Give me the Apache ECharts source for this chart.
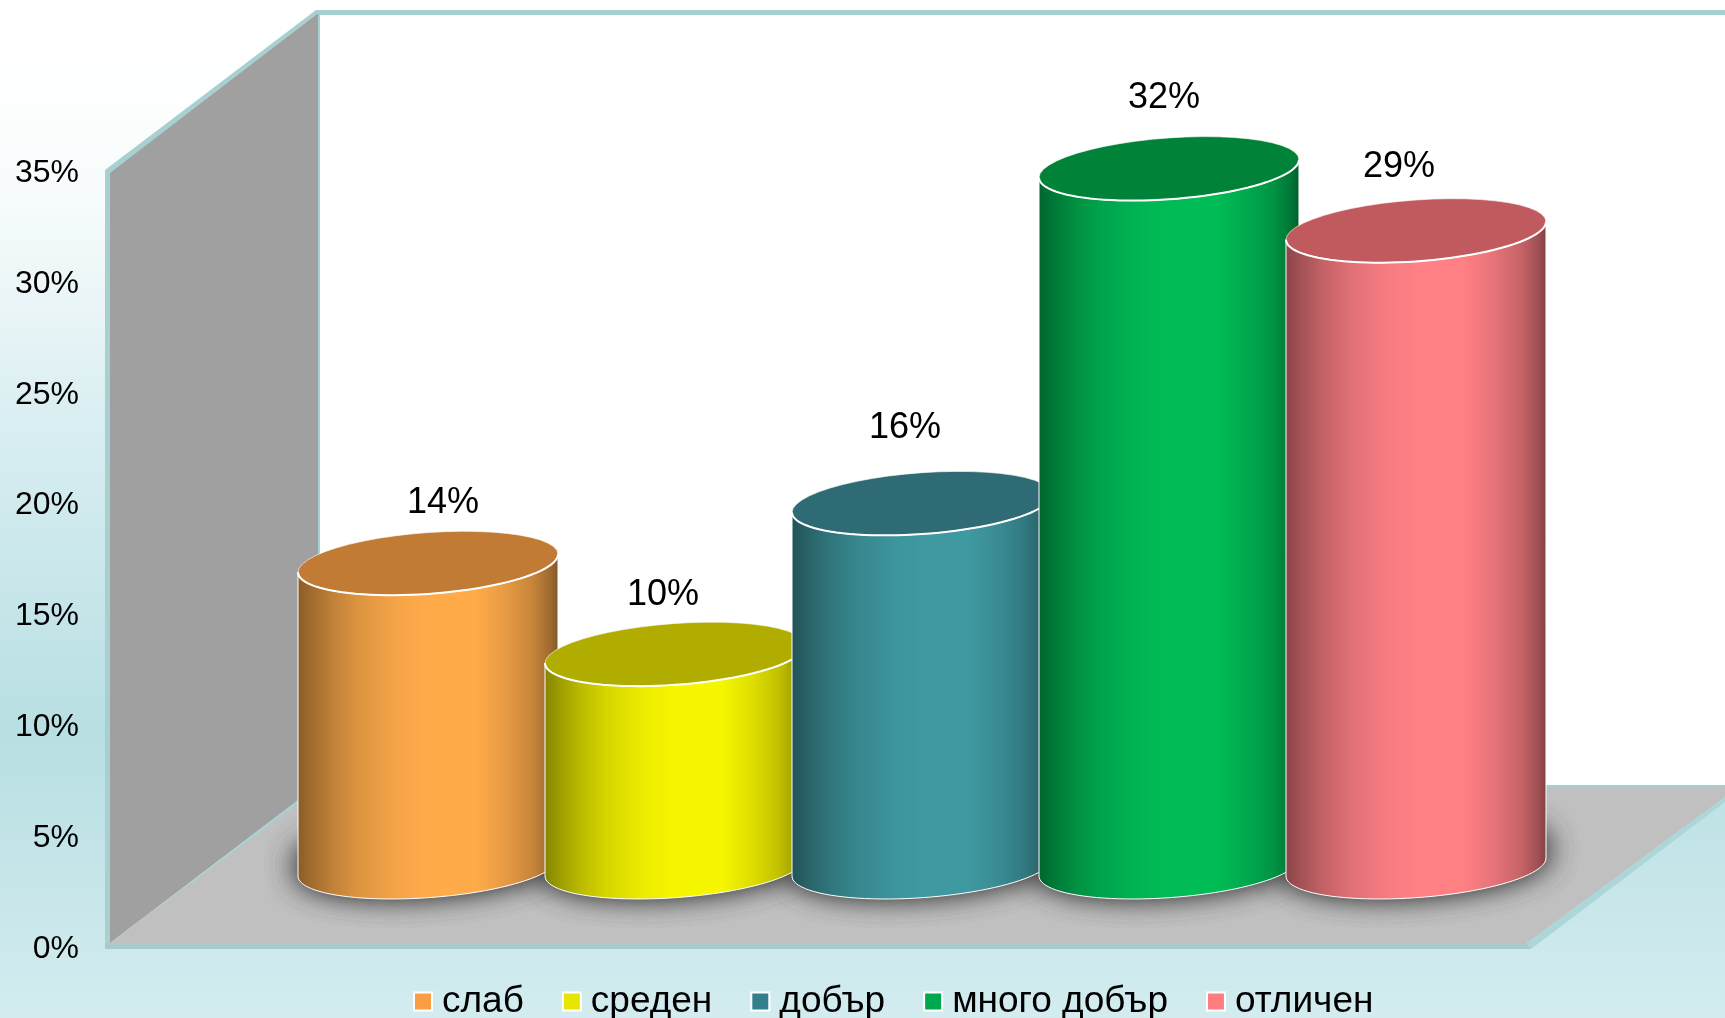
<!DOCTYPE html>
<html>
<head>
<meta charset="utf-8">
<style>html,body{margin:0;padding:0;overflow:hidden}#c{width:1725px;height:1018px}</style>
<script src="https://cdn.jsdelivr.net/npm/echarts@6/dist/echarts.min.js"></script>
</head>
<body>
<div id="c"></div>
<script>
const categories = ['слаб', 'среден', 'добър', 'много добър', 'отличен'];
const values = [13.7, 9.6, 16.4, 31.5, 28.7];
const bodyColors = ['#ffab4a', '#f6f600', '#3f99a1', '#00bc56', '#ff8085'];
const topColors = ['#c27b34', '#b0ad00', '#2f6b74', '#008238', '#c05a5e'];
const legendColors = ['#fb9d45', '#e6e600', '#347f8c', '#00a850', '#ff7c80'];
const labelNudge = [[15, -60], [-12, -59], [-17, -75], [-5, -71], [-17, -64]];
const valueTicks = [0, 5, 10, 15, 20, 25, 30, 35];
const FONT = '"Liberation Sans", Arial, sans-serif';

function shade(hex, f) {
  const n = parseInt(hex.slice(1), 16);
  const c = [n >> 16 & 255, n >> 8 & 255, n & 255].map(v => Math.round(v * f));
  return 'rgb(' + c.join(',') + ')';
}
function sideGradient(hex) {
  const stops = [[0, .54], [.06, .64], [.14, .76], [.24, .87], [.38, .96], [.5, 1], [.68, 1], [.8, .9], [.9, .78], [.97, .62], [1, .5]];
  return new echarts.graphic.LinearGradient(0, 0, 1, 0, stops.map(s => ({offset: s[0], color: shade(hex, s[1])})));
}
// tilted ellipse outline: the front rim runs t = 0..PI
const TILT = 9, MINOR = 30.7, STEPS = 48;
function rim(cx, cy, rx, t) {
  return [cx + rx * Math.cos(t), cy - TILT * Math.cos(t) * (rx / 130) + MINOR * Math.sin(t) * (rx / 130)];
}
function arc(cx, cy, rx, from, to) {
  const p = [];
  for (let i = 0; i <= STEPS; i++) p.push(rim(cx, cy, rx, from + (to - from) * i / STEPS));
  return p;
}
function halfWidth(api) { return api.size([1, 0])[0] * 0.5263; }

function renderCylinder(i) {
  return function (params, api) {
    const base = api.coord([api.value(0), 0]);
    const top = api.coord([api.value(0), api.value(1)]);
    const rx = halfWidth(api);
    const cx = base[0];
    const body = arc(cx, top[1], rx, Math.PI, 0).concat(arc(cx, base[1], rx, 0, Math.PI));
    const ellipse = arc(cx, top[1], rx, 0, Math.PI * 2);
    return {
      type: 'group',
      children: [
        {type: 'polygon', shape: {points: body},
         style: {fill: sideGradient(bodyColors[i]), stroke: '#fff', lineWidth: 1}},
        {type: 'polygon', shape: {points: ellipse},
         style: {fill: topColors[i], stroke: 'rgba(255,255,255,.6)', lineWidth: 1}},
        {type: 'polyline', shape: {points: arc(cx, top[1], rx, 0, Math.PI)},
         style: {fill: 'none', stroke: '#fff', lineWidth: 2}},
        {type: 'text', x: cx + labelNudge[i][0], y: top[1] + labelNudge[i][1],
         style: {text: Math.round(api.value(1)) + '%', fill: '#000', font: '36px ' + FONT,
                 align: 'center', verticalAlign: 'middle'}}
      ]
    };
  };
}
function renderShadow(params, api) {
  const base = api.coord([api.value(0), 0]);
  const rx = halfWidth(api);
  const layer = () => ({
    type: 'polygon',
    shape: {points: arc(base[0], base[1] - 9, rx - 1, 0, Math.PI * 2)},
    style: {fill: '#555', shadowColor: 'rgba(60,60,60,1)', shadowBlur: 32}
  });
  return {type: 'group', children: [layer(), layer(), layer()]};
}

const T = '#a8d0d1';
const poly = (points, fill) => ({type: 'polygon', z: 0, shape: {points}, style: {fill}, silent: true});
const walls = [
  poly([[320, 15], [1725, 15], [1725, 785], [320, 785]], '#ffffff'),
  poly([[318, 10], [1725, 10], [1725, 15], [318, 15]], T),
  poly([[110, 172], [318, 13], [318, 785], [110, 943]], '#a0a0a0'),
  poly([[105, 170], [316, 10], [320, 10], [320, 800], [318, 800], [318, 13], [110, 173], [110, 949], [105, 949]], T),
  poly([[110, 943], [320, 785], [1725, 785], [1725, 797], [1527, 943]], '#c0c0c0'),
  poly([[105, 949], [318, 785], [323, 785], [112, 943]], T),
  poly([[1540, 785], [1725, 785], [1725, 787], [1540, 787]], '#a9cccc'),
  poly([[105, 943], [1527, 943], [1531, 949], [105, 949]], '#a8cacd'),
  poly([[1527, 943], [1725, 797], [1725, 802], [1531, 949]], '#acd6d7')
];

const cylinderSeries = categories.map((name, i) => ({
  name, type: 'custom', xAxisIndex: 1, yAxisIndex: 1, z: 3 + i,
  coordinateSystem: 'cartesian2d',
  encode: {x: 0, y: 1},
  data: [[i, values[i]]],
  itemStyle: {color: legendColors[i]},
  renderItem: renderCylinder(i)
}));

const chart = echarts.init(document.getElementById('c'), null, {renderer: 'canvas'});
chart.setOption({
  animation: false,
  backgroundColor: new echarts.graphic.LinearGradient(0, 0, 0, 1, [
    {offset: 0, color: '#ffffff'}, {offset: .1, color: '#fdfefe'}, {offset: .2, color: '#f6fbfb'},
    {offset: .3, color: '#eaf5f7'}, {offset: .4, color: '#dbeff2'}, {offset: .72, color: '#b8dfe3'},
    {offset: 1, color: '#d3ecef'}
  ]),
  graphic: {elements: walls},
  grid: [
    {left: 105, top: 173, width: 1422, height: 776},
    {left: 304.5, top: 91, width: 1235, height: 776}
  ],
  xAxis: [
    {gridIndex: 0, type: 'category', data: categories, show: false},
    {gridIndex: 1, type: 'category', data: categories, show: false}
  ],
  yAxis: [
    {gridIndex: 0, type: 'value', min: valueTicks[0], max: valueTicks[valueTicks.length - 1], interval: 5,
     axisLine: {show: false}, axisTick: {show: false}, splitLine: {show: false},
     axisLabel: {formatter: '{value}%', fontFamily: FONT, fontSize: 32, color: '#000', margin: 26}},
    {gridIndex: 1, type: 'value', min: valueTicks[0], max: valueTicks[valueTicks.length - 1], interval: 5, show: false}
  ],
  legend: {
    left: 408, top: 978, icon: 'rect', itemWidth: 18, itemHeight: 18, itemGap: 38,
    textStyle: {fontFamily: FONT, fontSize: 37, color: '#000', padding: [0, 0, 0, 5]},
    data: categories.map((name, i) => ({
      name, itemStyle: {color: legendColors[i], borderColor: '#fff', borderWidth: 2}
    }))
  },
  series: [{
    name: 'shadow', type: 'custom', xAxisIndex: 1, yAxisIndex: 1, z: 1,
    encode: {x: 0, y: 1},
    data: categories.map((c, i) => [i, values[i]]),
    renderItem: renderShadow
  }].concat(cylinderSeries)
});
</script>
</body>
</html>
